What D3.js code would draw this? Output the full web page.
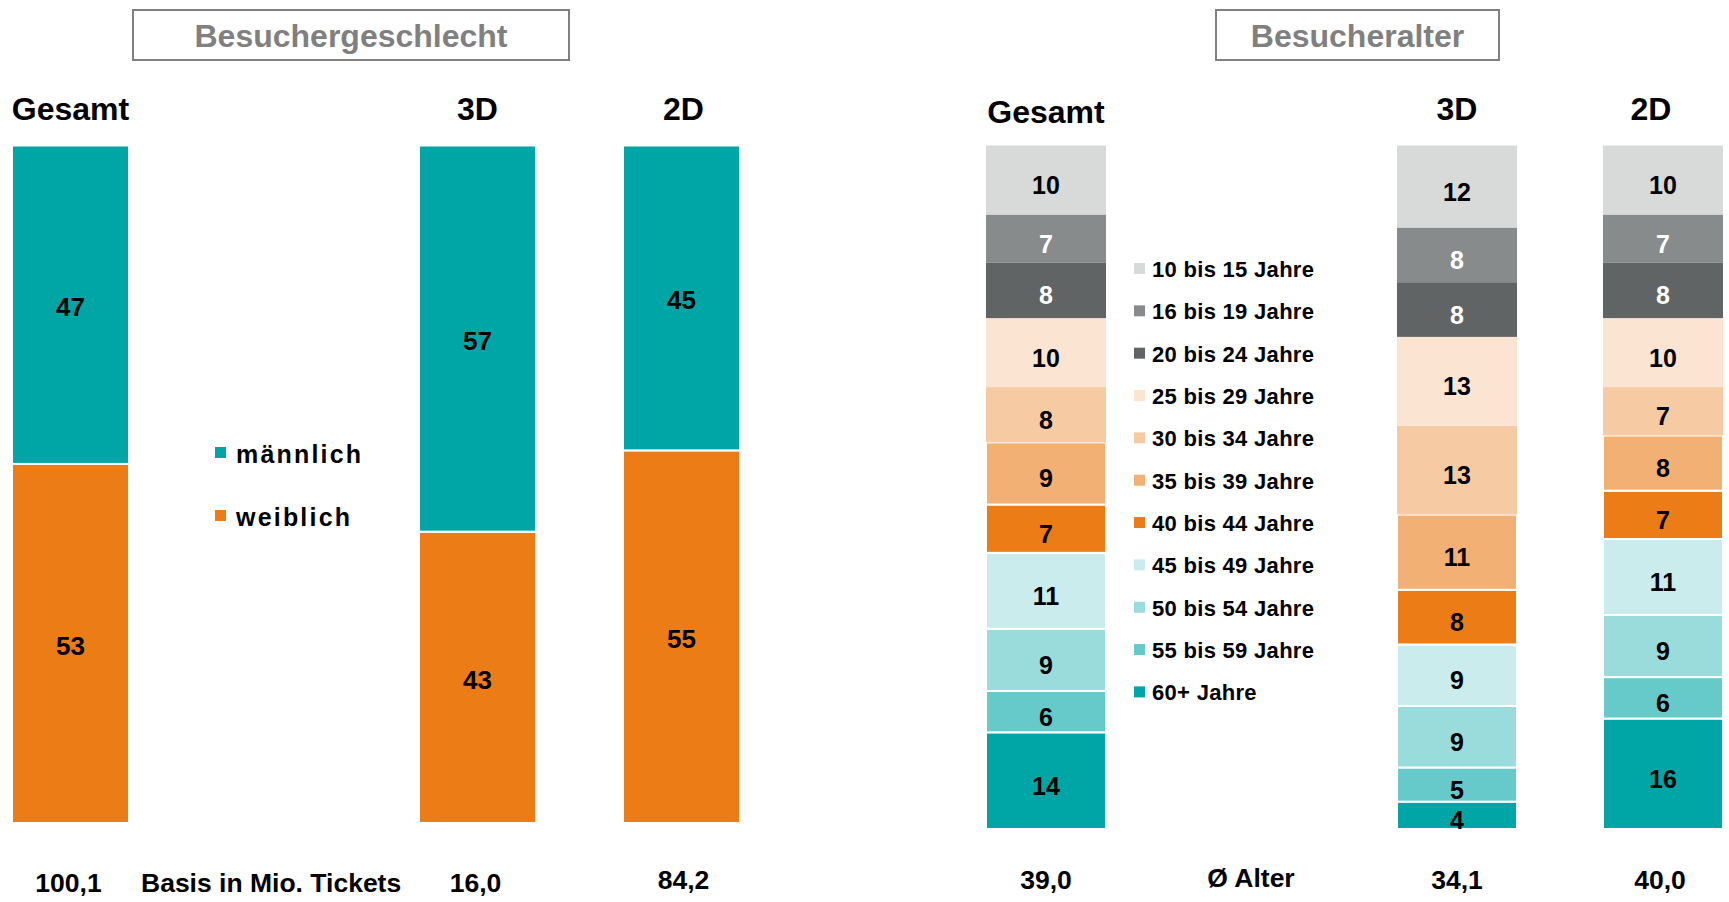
<!DOCTYPE html>
<html lang="de">
<head>
<meta charset="utf-8">
<title>Besuchergeschlecht und Besucheralter</title>
<script src="https://cdn.jsdelivr.net/npm/d3@7"></script>
<style>
  html, body { margin: 0; padding: 0; background: #ffffff; }
  svg { display: block; font-family: "Liberation Sans", Arial, Helvetica, sans-serif; }
</style>
</head>
<body>
<svg id="chart" width="1729" height="902"></svg>
<script>
// ---- Daten ----------------------------------------------------------
const categories   = ["Gesamt", "3D", "2D"];
const genderKeys   = ["männlich", "weiblich"];
const maleShare    = [47, 57, 45];
const femaleShare  = [53, 43, 55];
const ticketBasis  = ["100,1", "16,0", "84,2"];

const ageGroups = [
  "10 bis 15 Jahre", "16 bis 19 Jahre", "20 bis 24 Jahre", "25 bis 29 Jahre",
  "30 bis 34 Jahre", "35 bis 39 Jahre", "40 bis 44 Jahre", "45 bis 49 Jahre",
  "50 bis 54 Jahre", "55 bis 59 Jahre", "60+ Jahre"
];
const ageGesamt = [10, 7, 8, 10, 8, 9, 7, 11, 9, 6, 14];
const age3D     = [12, 8, 8, 13, 13, 11, 8, 9, 9, 5, 4];
const age2D     = [10, 7, 8, 10, 7, 8, 7, 11, 9, 6, 16];
const avgAge    = ["39,0", "34,1", "40,0"];

// ---- Farben ---------------------------------------------------------
const genderColors = ["#00a6a6", "#eb7c16"];
const ageColors = [
  "#d8d9d9", "#888b8c", "#616465", "#fce4d3", "#f6caa2", "#f2b074",
  "#eb7c16", "#cbecec", "#9adbdb", "#66c9ca", "#00a6a6"
];
const ageLabelColors = ["#000", "#fff", "#fff", "#000", "#000", "#000",
                        "#000", "#000", "#000", "#000", "#000"];

const svg = d3.select("#chart");
svg.append("rect").attr("width", 1729).attr("height", 902).attr("fill", "#fff");

function titleBox(x, y, w, h, text) {
  svg.append("rect")
    .attr("x", x).attr("y", y).attr("width", w).attr("height", h)
    .attr("fill", "#fff").attr("stroke", "#808080").attr("stroke-width", 2);
  svg.append("text")
    .attr("x", x + w / 2).attr("y", y + h / 2).attr("dy", "0.36em")
    .attr("text-anchor", "middle")
    .attr("font-size", 32).attr("font-weight", "bold").attr("fill", "#808080")
    .text(text);
}

// ---- Besuchergeschlecht -------------------------------------------
titleBox(133, 10, 436, 50, "Besuchergeschlecht");

const gTop = 145.5, gBottom = 823;
const gBarW = 117;
const gx = d3.scaleOrdinal().domain(categories).range([12, 419, 623]);
const gy = d3.scaleLinear().domain([0, 100]).range([gBottom, gTop]);

const genderRows = categories.map((c, i) => ({
  cat: c, "männlich": maleShare[i], "weiblich": femaleShare[i]
}));
// weiblich unten, männlich oben
const genderStack = d3.stack().keys(["weiblich", "männlich"])(genderRows);
const genderColor = d3.scaleOrdinal().domain(genderKeys).range(genderColors);

const gLayer = svg.append("g").selectAll("g").data(genderStack).join("g")
  .attr("fill", d => genderColor(d.key));

gLayer.selectAll("rect").data(d => d).join("rect")
  .attr("x", d => gx(d.data.cat))
  .attr("width", gBarW)
  .attr("y", d => gy(d[1]))
  .attr("height", d => gy(d[0]) - gy(d[1]))
  .attr("stroke", "#fff").attr("stroke-width", 2);

gLayer.selectAll("text").data(d => d).join("text")
  .attr("x", d => gx(d.data.cat) + gBarW / 2)
  .attr("y", d => (gy(d[0]) + gy(d[1])) / 2 + 2)
  .attr("dy", "0.36em")
  .attr("text-anchor", "middle")
  .attr("font-size", 26).attr("font-weight", "bold").attr("fill", "#000")
  .text(d => d[1] - d[0]);

// Spaltenköpfe
svg.append("g").selectAll("text").data(categories).join("text")
  .attr("x", d => gx(d) + gBarW / 2 + (d === "2D" ? 2 : 0))
  .attr("y", 108).attr("dy", "0.36em")
  .attr("text-anchor", "middle")
  .attr("font-size", 32).attr("font-weight", "bold").attr("fill", "#000")
  .text(d => d);

// Legende Geschlecht
const gLegend = svg.append("g").selectAll("g").data(genderKeys).join("g")
  .attr("transform", (d, i) => `translate(215, ${454 + i * 63})`);
gLegend.append("rect")
  .attr("x", 0).attr("y", -7).attr("width", 11).attr("height", 11)
  .attr("fill", d => genderColor(d));
gLegend.append("text")
  .attr("x", 21).attr("y", 0).attr("dy", "0.36em")
  .attr("font-size", 25).attr("font-weight", "bold").attr("letter-spacing", 2.2)
  .attr("fill", "#000")
  .text(d => d);

// Basis
svg.append("g").selectAll("text").data(ticketBasis).join("text")
  .attr("x", (d, i) => gx(categories[i]) + gBarW / 2 + (i === 2 ? 2 : -2))
  .attr("y", (d, i) => i === 2 ? 879 : 882).attr("dy", "0.36em")
  .attr("text-anchor", "middle")
  .attr("font-size", 26.5).attr("font-weight", "bold").attr("fill", "#000")
  .text(d => d);
svg.append("text")
  .attr("x", 141).attr("y", 882).attr("dy", "0.36em")
  .attr("font-size", 26.5).attr("font-weight", "bold").attr("fill", "#000")
  .text("Basis in Mio. Tickets");

// ---- Besucheralter -------------------------------------------------
titleBox(1216, 10, 283, 50, "Besucheralter");

const aTop = 145.5, aBottom = 829;
const aBarW = 120;
const ax = d3.scaleOrdinal().domain(categories).range([986, 1397, 1603]);
const ay = d3.scaleLinear().domain([0, 1]).range([aBottom, aTop]);

const ageSeries = [ageGesamt, age3D, age2D];
const ageRows = categories.map((c, i) => {
  const row = { cat: c };
  ageGroups.forEach((g, j) => { row[g] = ageSeries[i][j]; });
  return row;
});
// 60+ unten, 10 bis 15 oben; jede Säule auf 100 % normiert
const ageStack = d3.stack()
  .keys(ageGroups.slice().reverse())
  .offset(d3.stackOffsetExpand)(ageRows);
const ageColor = d3.scaleOrdinal().domain(ageGroups).range(ageColors);
const ageText = d3.scaleOrdinal().domain(ageGroups).range(ageLabelColors);
const outlined = new Set(ageGroups.slice(5));

const aLayer = svg.append("g").selectAll("g").data(ageStack).join("g")
  .attr("fill", d => ageColor(d.key));

aLayer.selectAll("rect").data(d => d).join("rect")
  .attr("x", d => ax(d.data.cat))
  .attr("width", aBarW)
  .attr("y", d => ay(d[1]))
  .attr("height", d => ay(d[0]) - ay(d[1]))
  .attr("stroke", function () { return outlined.has(d3.select(this.parentNode).datum().key) ? "#fff" : "none"; })
  .attr("stroke-width", 2);

aLayer.selectAll("text").data(function (d) { return d.map(p => ({ p, key: d.key })); }).join("text")
  .attr("x", d => ax(d.p.data.cat) + aBarW / 2)
  .attr("y", d => (ay(d.p[0]) + ay(d.p[1])) / 2 + 5)
  .attr("dy", "0.36em")
  .attr("text-anchor", "middle")
  .attr("font-size", 25).attr("font-weight", "bold")
  .attr("fill", d => ageText(d.key))
  .text(d => d.p.data[d.key]);

// Spaltenköpfe
svg.append("g").selectAll("text").data(categories).join("text")
  .attr("x", d => ax(d) + aBarW / 2 + (d === "2D" ? -12 : 0))
  .attr("y", d => d === "Gesamt" ? 111 : 108).attr("dy", "0.36em")
  .attr("text-anchor", "middle")
  .attr("font-size", 32).attr("font-weight", "bold").attr("fill", "#000")
  .text(d => d);

// Legende Alter
const aLegend = svg.append("g").selectAll("g").data(ageGroups).join("g")
  .attr("transform", (d, i) => `translate(1134, ${269 + i * 42.34})`);
aLegend.append("rect")
  .attr("x", 0).attr("y", -6).attr("width", 11).attr("height", 11)
  .attr("fill", d => ageColor(d));
aLegend.append("text")
  .attr("x", 18).attr("y", 0).attr("dy", "0.36em")
  .attr("font-size", 22).attr("font-weight", "bold").attr("letter-spacing", 0.3)
  .attr("fill", "#000")
  .text(d => d);

// Durchschnittsalter
svg.append("g").selectAll("text").data(avgAge).join("text")
  .attr("x", (d, i) => ax(categories[i]) + aBarW / 2 + (i === 2 ? -3 : 0))
  .attr("y", 879).attr("dy", "0.36em")
  .attr("text-anchor", "middle")
  .attr("font-size", 26.5).attr("font-weight", "bold").attr("fill", "#000")
  .text(d => d);
svg.append("text")
  .attr("x", 1251).attr("y", 877).attr("dy", "0.36em")
  .attr("text-anchor", "middle")
  .attr("font-size", 26.5).attr("font-weight", "bold").attr("fill", "#000")
  .text("Ø Alter");
</script>
</body>
</html>
